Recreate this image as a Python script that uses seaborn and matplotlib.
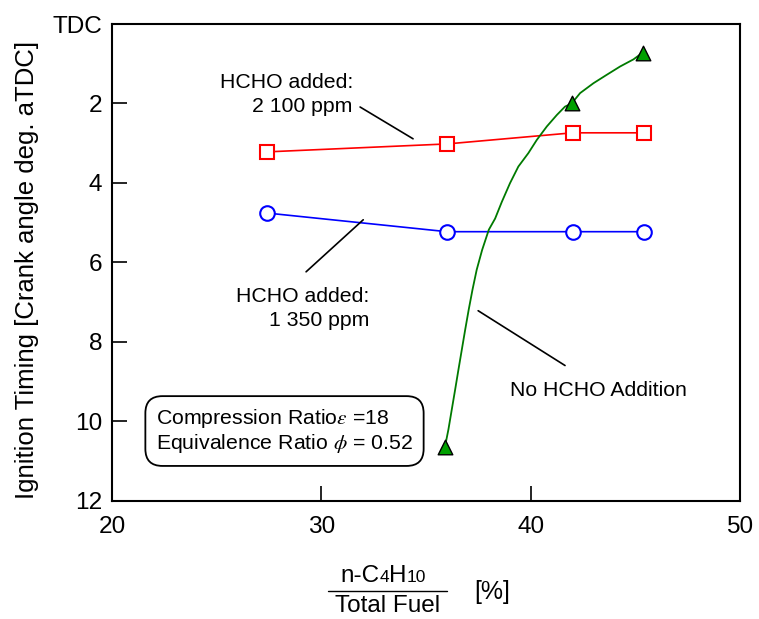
import matplotlib
matplotlib.use("Agg")
import matplotlib.pyplot as plt
import seaborn as sns
from matplotlib.lines import Line2D
from matplotlib.offsetbox import TextArea, HPacker, AnnotationBbox

# values
fuel_ratio = [27.4, 36.0, 42.0, 45.4]
hcho_2100 = [3.22, 3.02, 2.74, 2.74]
hcho_1350 = [4.76, 5.23, 5.23, 5.23]

no_hcho_x = [35.9, 41.96, 45.35]
no_hcho_y = [10.66, 2.0, 0.72]

# traced fit through the no-HCHO points
curve_x = [35.9, 36.07, 36.23, 36.39, 36.55, 36.71, 36.87, 37.04, 37.22,
           37.42, 37.68, 38.0, 38.3, 38.62, 39.01, 39.41, 39.89, 40.29,
           40.77, 41.25, 41.64, 41.96, 42.36, 43.0, 43.63, 44.27, 44.91, 45.35]
curve_y = [10.66, 10.21, 9.71, 9.21, 8.7, 8.2, 7.7, 7.19, 6.69,
           6.19, 5.69, 5.18, 4.9, 4.48, 4.01, 3.59, 3.25, 2.92,
           2.58, 2.29, 2.08, 2.0, 1.74, 1.49, 1.28, 1.07, 0.89, 0.72]

x_ticks = [20, 30, 40, 50]
y_ticks = [0, 2, 4, 6, 8, 10, 12]
y_ticklabels = ["TDC", "2", "4", "6", "8", "10", "12"]

sns.set_style("ticks")
plt.rcParams['font.family'] = ['Liberation Sans', 'DejaVu Sans']
plt.rcParams['mathtext.fontset'] = 'stix'
plt.rcParams['text.color'] = 'black'
plt.rcParams['axes.labelcolor'] = 'black'
plt.rcParams['xtick.color'] = 'black'
plt.rcParams['ytick.color'] = 'black'

fig = plt.figure(figsize=(7.59, 6.19), dpi=100)
ax = fig.add_axes([0.1476, 0.1914, 0.8274, 0.7698])

sns.lineplot(x=fuel_ratio, y=hcho_2100, ax=ax, color='#ff0000', lw=1.2,
             marker='s', markersize=10, markerfacecolor='white',
             markeredgecolor='#ff0000', markeredgewidth=1.5)
sns.lineplot(x=fuel_ratio, y=hcho_1350, ax=ax, color='#0000ff', lw=1.2,
             marker='o', markersize=10.5, markerfacecolor='white',
             markeredgecolor='#0000ff', markeredgewidth=1.5)
sns.lineplot(x=curve_x, y=curve_y, ax=ax, sort=False, color='#007a00', lw=1.3)
sns.scatterplot(x=no_hcho_x, y=no_hcho_y, ax=ax, marker='^', s=110,
                color='#00a000', edgecolor='black', linewidth=1.0, zorder=5)

ax.set_xlim(20, 50)
ax.set_ylim(12, 0)
ax.set_xticks(x_ticks)
ax.set_yticks(y_ticks)
ax.set_yticklabels(y_ticklabels)
ax.tick_params(direction='in', length=11, width=1.2, labelsize=17.6,
               top=False, right=False, colors='black')
ax.tick_params(axis='x', pad=11)
ax.tick_params(axis='y', pad=7)
for sp in ax.spines.values():
    sp.set_linewidth(1.5)
    sp.set_color('black')

ax.set_ylabel("Ignition Timing [Crank angle deg. aTDC]", fontsize=18.5)
ax.yaxis.set_label_coords(-0.117, 0.4837)

# annotations
ax.text(31.5, 1.78, "HCHO added:\n2 100 ppm", ha='right', va='center',
        multialignment='right', fontsize=15.3, linespacing=1.3)
ax.plot([31.85, 34.38], [2.09, 2.89], color='black', lw=1.2)

ax.text(32.3, 7.16, "HCHO added:\n1 350 ppm", ha='right', va='center',
        multialignment='right', fontsize=15.3, linespacing=1.3)
ax.plot([29.27, 32.0], [6.24, 4.93], color='black', lw=1.2)

ax.text(39.0, 9.23, "No HCHO Addition", ha='left', va='center', fontsize=15.3)
ax.plot([37.49, 41.64], [7.22, 8.60], color='black', lw=1.2)

ax.text(22.1, 10.25, "Compression Ratio$\\varepsilon$ =18\nEquivalence Ratio $\\phi$ = 0.52",
        ha='left', va='center', fontsize=15.3, linespacing=1.15,
        bbox=dict(boxstyle='round,pad=0.5,rounding_size=0.8',
                  facecolor='white', edgecolor='black', lw=1.3))

# x label as a fraction
num = HPacker(children=[TextArea("n-C", textprops=dict(fontsize=17.5)),
                        TextArea("4", textprops=dict(fontsize=12.5)),
                        TextArea("H", textprops=dict(fontsize=17.5)),
                        TextArea("10", textprops=dict(fontsize=12.5))],
              align="baseline", pad=0, sep=0)
fig.add_artist(AnnotationBbox(num, (383 / 759, 1 - 576 / 619),
                              xycoords='figure fraction', frameon=False,
                              box_alignment=(0.5, 0.5)))
fig.add_artist(Line2D([328 / 759, 447 / 759], [1 - 591 / 619] * 2,
                      transform=fig.transFigure, color='black', lw=1.0))
fig.text(388 / 759, 1 - 611.5 / 619, "Total Fuel", ha='center', va='baseline',
         fontsize=17.5)
fig.text(492 / 759, 1 - 592 / 619, "[%]", ha='center', va='center', fontsize=18)

fig.savefig("out.png", dpi=100)
